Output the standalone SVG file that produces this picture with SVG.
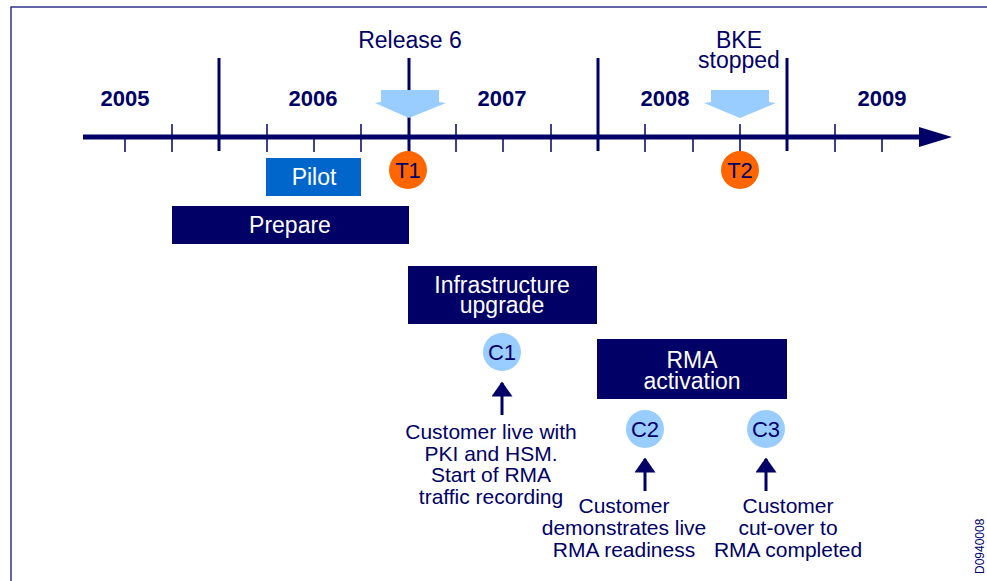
<svg xmlns="http://www.w3.org/2000/svg" width="987" height="581" viewBox="0 0 987 581">
<style>
text{font-family:"Liberation Sans",Arial,sans-serif;fill:#000066}
.yr{font-size:22px;font-weight:bold;text-anchor:middle}
.hd{font-size:23px;text-anchor:middle}
.bx{font-size:23px;text-anchor:middle;fill:#ffffff}
.cap{font-size:21px;text-anchor:middle}
.maj{stroke:#000066;stroke-width:3}
.min{stroke:#000066;stroke-width:1.5}
.nav{fill:#000066}
.lb{fill:#99ccff}
.or{fill:#ff6600}
.conn{stroke:#000066;stroke-width:3;fill:none}
</style>
<defs>
<marker id="ah" markerWidth="5" markerHeight="7" refX="4.5" refY="3.5" orient="auto" markerUnits="strokeWidth" viewBox="0 0 5 7">
<path d="M0,0 L5,3.5 L0,7 Z" fill="#000066"/>
</marker>
</defs>
<rect x="11" y="7" width="1000" height="620" fill="none" stroke="#333388" stroke-width="1.5"/>
<g id="timeline">
<line x1="83" y1="137" x2="922" y2="137" stroke="#000066" stroke-width="5"/>
<path d="M919,127 L952,137 L919,147 Z" fill="#000066"/>
<line class="maj" x1="219" y1="58" x2="219" y2="151"/>
<line class="maj" x1="409" y1="58" x2="409" y2="152"/>
<line class="maj" x1="598" y1="58" x2="598" y2="151"/>
<line class="maj" x1="787" y1="58" x2="787" y2="151"/>
<line class="min" x1="125" y1="137" x2="125" y2="152"/>
<line class="min" x1="172" y1="124" x2="172" y2="152"/>
<line class="min" x1="267" y1="124" x2="267" y2="152"/>
<line class="min" x1="314" y1="137" x2="314" y2="152"/>
<line class="min" x1="361" y1="124" x2="361" y2="152"/>
<line class="min" x1="456" y1="124" x2="456" y2="152"/>
<line class="min" x1="503" y1="137" x2="503" y2="152"/>
<line class="min" x1="551" y1="124" x2="551" y2="152"/>
<line class="min" x1="645" y1="124" x2="645" y2="152"/>
<line class="min" x1="693" y1="137" x2="693" y2="152"/>
<line class="min" x1="740" y1="124" x2="740" y2="152"/>
<line class="min" x1="835" y1="124" x2="835" y2="152"/>
<line class="min" x1="882" y1="137" x2="882" y2="152"/>
<text class="yr" x="125" y="106">2005</text>
<text class="yr" x="313" y="106">2006</text>
<text class="yr" x="502" y="106">2007</text>
<text class="yr" x="665" y="106">2008</text>
<text class="yr" x="882" y="106">2009</text>
</g>
<g id="release6">
<path class="lb" d="M381,90 L439,90 L439,102 L446,103 L409,118 L375,103 L381,102 Z"/>
<text class="hd" x="410" y="48">Release 6</text>
</g>
<g id="bke">
<path class="lb" d="M711,90 L769,90 L769,102 L776,103 L740,118 L704,103 L711,102 Z"/>
<text class="hd" x="739" y="48">BKE</text>
<text class="hd" x="739" y="68">stopped</text>
</g>
<g id="t1">
<circle class="or" cx="408" cy="170" r="19"/>
<text class="hd" x="408" y="178" style="font-size:22px">T1</text>
</g>
<g id="t2">
<circle class="or" cx="740" cy="170" r="19"/>
<text class="hd" x="740" y="178" style="font-size:22px">T2</text>
</g>
<g id="pilot">
<rect x="266" y="158" width="95" height="38" fill="#0066cc"/>
<text class="bx" x="314" y="185">Pilot</text>
</g>
<g id="prepare">
<rect class="nav" x="172" y="206" width="237" height="38"/>
<text class="bx" x="290" y="233">Prepare</text>
</g>
<g id="infra">
<rect class="nav" x="408" y="266" width="189" height="58"/>
<text class="bx" x="502" y="293">Infrastructure</text>
<text class="bx" x="502" y="313">upgrade</text>
</g>
<g id="rma">
<rect class="nav" x="597" y="339" width="190" height="60"/>
<text class="bx" x="692" y="368">RMA</text>
<text class="bx" x="692" y="389">activation</text>
</g>
<g id="c1">
<circle class="lb" cx="502" cy="352" r="19"/>
<text class="hd" x="502" y="360" style="font-size:22px">C1</text>
</g>
<g id="c2">
<circle class="lb" cx="645" cy="429" r="19"/>
<text class="hd" x="645" y="437" style="font-size:22px">C2</text>
</g>
<g id="c3">
<circle class="lb" cx="766" cy="429" r="19"/>
<text class="hd" x="766" y="437" style="font-size:22px">C3</text>
</g>
<g id="c1text">
<text class="cap" x="491" y="439">Customer live with</text>
<text class="cap" x="491" y="461">PKI and HSM.</text>
<text class="cap" x="491" y="482">Start of RMA</text>
<text class="cap" x="491" y="504">traffic recording</text>
</g>
<g id="c2text">
<text class="cap" x="624" y="513">Customer</text>
<text class="cap" x="624" y="535">demonstrates live</text>
<text class="cap" x="624" y="557">RMA readiness</text>
</g>
<g id="c3text">
<text class="cap" x="788" y="513">Customer</text>
<text class="cap" x="788" y="535">cut-over to</text>
<text class="cap" x="788" y="557">RMA completed</text>
</g>
<g id="connectors">
<line class="conn" x1="502" y1="415" x2="502" y2="383" marker-end="url(#ah)"/>
<line class="conn" x1="645" y1="491" x2="645" y2="459" marker-end="url(#ah)"/>
<line class="conn" x1="766" y1="491" x2="766" y2="459" marker-end="url(#ah)"/>
</g>
<text transform="translate(984,574) rotate(-90)" style="font-size:12px">D0940008</text>
</svg>
